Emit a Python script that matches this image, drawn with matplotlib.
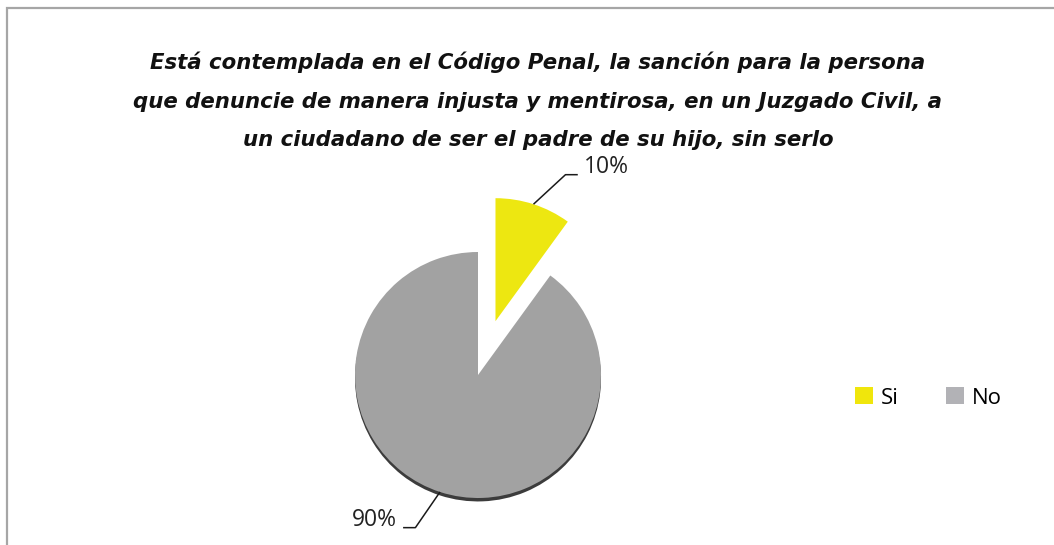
import numpy as np
import matplotlib
matplotlib.use("Agg")
import matplotlib.pyplot as plt
from matplotlib.patches import Patch, Rectangle, Wedge

categories = ["Si", "No"]
values = [10, 90]
labels = ["10%", "90%"]
colors = ["#EDE711", "#A2A2A2"]
legend_colors = ["#F0E60C", "#B2B2B6"]
title = ("Está contemplada en el Código Penal, la sanción para la persona\n"
         "que denuncie de manera injusta y mentirosa, en un Juzgado Civil, a\n"
         "un ciudadano de ser el padre de su hijo, sin serlo")

plt.rcParams['font.family'] = ['Open Sans', 'DejaVu Sans']

W, H = 1054, 545
fig = plt.figure(figsize=(W / 100, H / 100), dpi=100)
fig.patch.set_facecolor("white")

# frame (left and top visible)
fig.add_artist(Rectangle((6.5 / W, -0.2), 1.5, 1.2 - 7.5 / H,
                         transform=fig.transFigure, fill=False,
                         edgecolor="#A6A6A6", linewidth=1.6))

# pie axes: radius 1 == 123 px, centre at (478, 375) px
R = 123.0
cx, cy = 478.0, 375.0
L = 230.0
ax = fig.add_axes([(cx - L) / W, (H - cy - L) / H, 2 * L / W, 2 * L / H])

explode = [0.46, 0.0]
tot = sum(values)
angles = []
a = 90.0
for v in values:
    a2 = a - 360.0 * v / tot
    angles.append((a2, a))
    a = a2
th1, th2 = angles[1]
# shadow under the big slice
ax.add_patch(Wedge((0, -0.028), 1.0, th1, th2, facecolor="#3C3C3C",
                   edgecolor="none", zorder=1))

wedges, _ = ax.pie(values, colors=colors, startangle=90, counterclock=False,
                   explode=explode, radius=1.0, center=(0, 0),
                   wedgeprops=dict(linewidth=0), frame=False)
for w in wedges:
    w.set_zorder(2)
    w.set_clip_on(False)
ax.set_xlim(-L / R, L / R)
ax.set_ylim(-L / R, L / R)
ax.set_aspect("equal")
ax.axis("off")

# labels with leader lines
lab_cfg = [  # (elbow dx, dy, horizontal length, side)
    (0.26, 0.24, 0.10, 1),
    (-0.20, -0.29, 0.10, -1),
]
for i, lab in enumerate(labels):
    t1, t2 = angles[i]
    mid = np.deg2rad((t1 + t2) / 2)
    ox = explode[i] * np.cos(mid)
    oy = explode[i] * np.sin(mid)
    ex, ey = ox + np.cos(mid), oy + np.sin(mid)
    dx, dy, hl, side = lab_cfg[i]
    bx, by = ex + dx, ey + dy
    hx = bx + side * hl
    ax.plot([ex, bx, hx], [ey, by, by], color="#1A1A1A", lw=1.1,
            zorder=3, clip_on=False, solid_capstyle="butt")
    ax.text(hx + side * 0.05, by + 0.065, lab,
            ha="left" if side > 0 else "right",
            va="center", fontsize=16.5, color="#222222", clip_on=False)

fig.text(538 / W, 1 - 101 / H, title, ha="center", va="center",
         fontsize=15.3, fontweight="bold", fontstyle="italic",
         family=["DejaVu Sans"],
         color="#111111", linespacing=2.17)

handles = [Patch(facecolor=c, edgecolor="none") for c in legend_colors]
fig.legend(handles, categories, loc="center left",
           bbox_to_anchor=(844 / W, 1 - 398 / H), ncol=2, frameon=False,
           fontsize=16, handlelength=0.8, handleheight=0.8,
           handletextpad=0.35, columnspacing=2.15, borderpad=0)

fig.savefig("out.png", dpi=100, facecolor="white")
